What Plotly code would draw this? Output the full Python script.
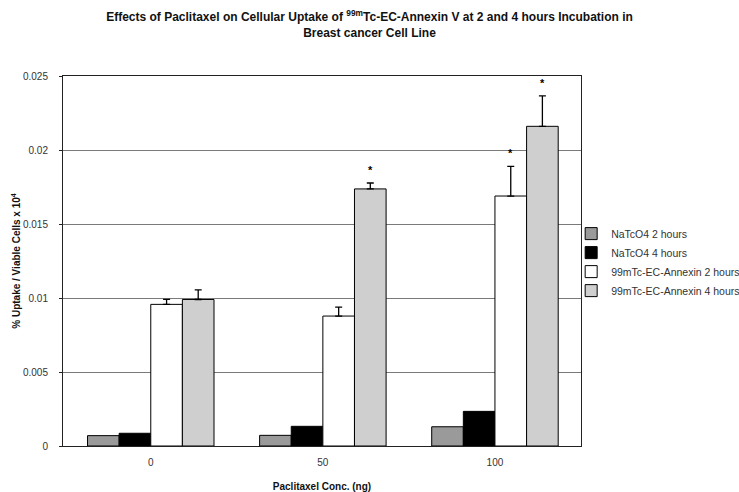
import plotly.graph_objects as go

# ---- data ----
categories = ["0", "50", "100"]
series_names = ["NaTcO4 2 hours", "NaTcO4 4 hours",
                "99mTc-EC-Annexin 2 hours", "99mTc-EC-Annexin 4 hours"]
natco4_2h = [0.0007, 0.00072, 0.0013]
natco4_4h = [0.00086, 0.00133, 0.00234]
annexin_2h = [0.00957, 0.00878, 0.01689]
annexin_4h = [0.0099, 0.01737, 0.0216]
annexin_2h_err = [0.00034, 0.0006, 0.002]
annexin_4h_err = [0.00065, 0.0004, 0.00206]
annexin_2h_sig = [False, False, True]
annexin_4h_sig = [False, True, True]
y_ticks = [0, 0.005, 0.01, 0.015, 0.02, 0.025]
y_ticklabels = ["0", "0.005", "0.01", "0.015", "0.02", "0.025"]

colors = ["#9a9a9a", "#000000", "#ffffff", "#cfcfcf"]
FONT = "Arial, Liberation Sans, sans-serif"
bargap = 0.265
xpos = list(range(len(categories)))

values = [natco4_2h, natco4_4h, annexin_2h, annexin_4h]
errors = [None, None, annexin_2h_err, annexin_4h_err]

fig = go.Figure()
for i, (name, vals, err, col) in enumerate(zip(series_names, values, errors, colors)):
    kw = {}
    if err is not None:
        kw["error_y"] = dict(type="data", symmetric=False, array=err,
                             arrayminus=[0] * len(err), color="black",
                             thickness=1.3, width=3.5)
    fig.add_trace(go.Bar(x=xpos, y=vals, name=name,
                         marker=dict(color=col, line=dict(color="black", width=1)),
                         **kw))

# significance stars
bw = (1 - bargap) / 4
for si, (vals, err, sig) in enumerate([(annexin_2h, annexin_2h_err, annexin_2h_sig),
                                        (annexin_4h, annexin_4h_err, annexin_4h_sig)]):
    idx = si + 2
    off = (idx - 1.5) * bw
    for k in range(len(categories)):
        if sig[k]:
            fig.add_annotation(x=xpos[k] + off, y=vals[k] + err[k], text="<b>*</b>",
                               showarrow=False, yanchor="bottom", yshift=5,
                               font=dict(family=FONT, size=11, color="black"))

fig.update_layout(
    width=739, height=492,
    margin=dict(l=63, r=158, t=76, b=46, autoexpand=False),
    paper_bgcolor="white", plot_bgcolor="white",
    barmode="group", bargap=bargap, bargroupgap=0,
    font=dict(family=FONT, size=10, color="#333333"),
    title=dict(text="<b>Effects of Paclitaxel on Cellular Uptake of <sup>99m</sup>Tc-EC-Annexin V at 2 and 4 hours Incubation in<br>Breast cancer Cell Line</b>",
               x=0.5, xref="container", xanchor="center",
               y=1 - 21 / 492, yref="container", yanchor="middle",
               font=dict(family=FONT, size=12, color="#111111")),
    legend=dict(x=0.981, xanchor="left", y=0.497, yanchor="middle",
                font=dict(family=FONT, size=10.5, color="#333333"),
                bgcolor="rgba(0,0,0,0)", itemwidth=30, tracegroupgap=0),
    showlegend=True,
)
fig.update_xaxes(tickvals=xpos, ticktext=categories, range=[-0.51, 2.5],
                 showline=True, linecolor="#222", linewidth=1, mirror=True,
                 ticks="", showgrid=False, automargin=False,
                 ticklabelstandoff=7,
                 title=dict(text="<b>Paclitaxel Conc. (ng)</b>", standoff=20,
                            font=dict(family=FONT, size=10, color="#111")),
                 tickfont=dict(family=FONT, size=10, color="#333"))
fig.update_yaxes(range=[0, 0.025], tickvals=y_ticks, ticktext=y_ticklabels,
                 showline=True, linecolor="#222", linewidth=1, mirror=True,
                 ticks="outside", ticklen=3, tickcolor="#222",
                 ticklabelstandoff=9,
                 showgrid=True, gridcolor="#7a7a7a", gridwidth=1,
                 zeroline=False, automargin=False,
                 title=dict(text="<b>% Uptake / Viable Cells x 10<sup>4</sup></b>", standoff=0,
                            font=dict(family=FONT, size=10, color="#111")),
                 tickfont=dict(family=FONT, size=10, color="#333"))

fig.write_html("out.html", config={"displayModeBar": False},
               post_script="document.body.style.margin='0';")
